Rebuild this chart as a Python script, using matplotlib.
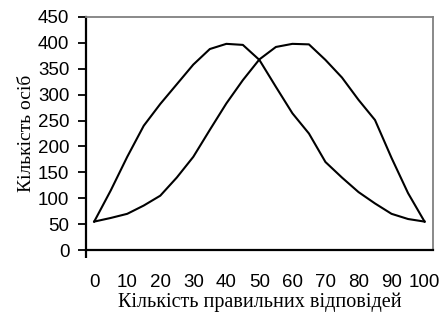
import numpy as np
import matplotlib
matplotlib.use('Agg')
import matplotlib.pyplot as plt

# кількість правильних відповідей (категорії через 5)
x = [0, 5, 10, 15, 20, 25, 30, 35, 40, 45, 50, 55, 60, 65, 70, 75, 80, 85, 90, 95, 100]
# крива з максимумом біля 40
a = [55, 115, 180, 240, 282, 320, 358, 388, 398, 396, 367, 315, 264, 225, 170, 140, 112, 90, 70, 60, 55]
# крива з максимумом біля 60
b = [55, 62, 70, 86, 105, 140, 180, 232, 283, 328, 368, 392, 398, 397, 367, 333, 290, 251, 178, 110, 55]

yticks = np.arange(0, 451, 50)
xticks = np.arange(0, 101, 10)

fig = plt.figure(figsize=(4.43, 3.19), dpi=100)
ax = fig.add_axes([0.194, 0.216, 0.783, 0.731])

ax.plot(x, a, color='k', lw=1.5)
ax.plot(x, b, color='k', lw=1.5)

ax.set_xlim(-2.5, 102.5)
ax.set_ylim(0, 450)

ax.spines['left'].set_linewidth(1.6)
ax.spines['bottom'].set_linewidth(1.6)
for s in ['top', 'right']:
    ax.spines[s].set_color('#808080')
    ax.spines[s].set_linewidth(1.3)

ax.set_yticks(yticks)
ax.set_xticks(xticks)
ax.tick_params(axis='y', direction='out', length=6, width=1.3, pad=6)
ax.tick_params(axis='x', length=0, pad=17)
# засічка під віссю y
ax.set_xticks([-2.5], minor=True)
ax.tick_params(axis='x', which='minor', direction='out', length=6, width=1.6)

for lab in ax.get_xticklabels() + ax.get_yticklabels():
    lab.set_fontfamily('Liberation Sans')
    lab.set_fontsize(13.5)

ax.set_xlabel('Кількість правильних відповідей', family='Liberation Serif', fontsize=14.5, labelpad=1)
ax.set_ylabel('Кількість осіб', family='Liberation Serif', fontsize=14, labelpad=2)

fig.savefig('out.png', dpi=100)
